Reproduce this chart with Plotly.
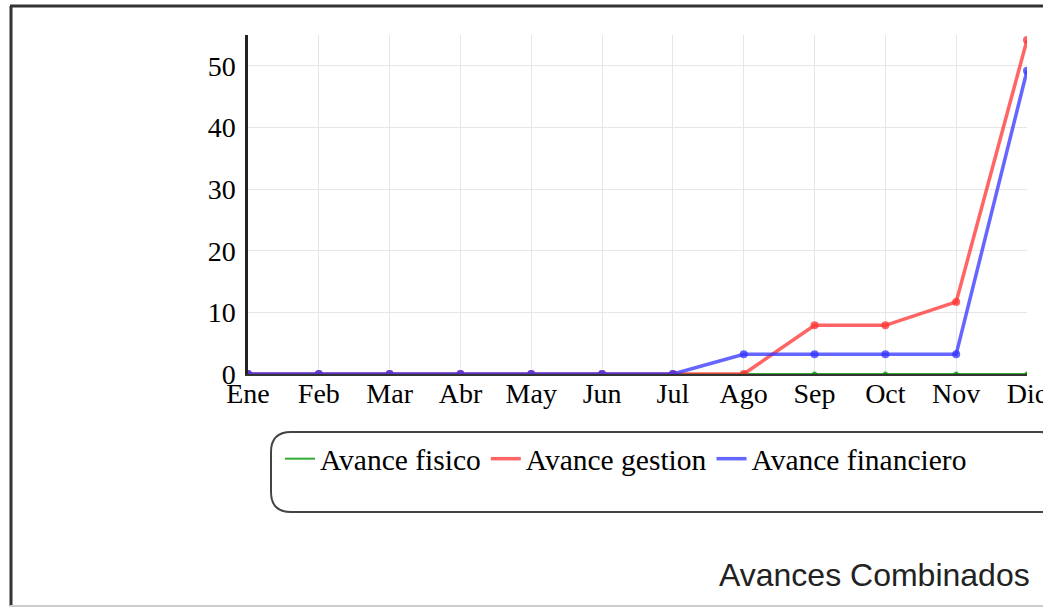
import plotly.graph_objects as go

months = ["Ene", "Feb", "Mar", "Abr", "May", "Jun", "Jul", "Ago", "Sep", "Oct", "Nov", "Dic"]
avance_fisico = [0, 0, 0, 0, 0, 0, 0, 0, 0, 0, 0, 0]
avance_gestion = [0, 0, 0, 0, 0, 0, 0, 0, 7.9, 7.9, 11.7, 54.2]
avance_financiero = [0, 0, 0, 0, 0, 0, 0, 3.2, 3.2, 3.2, 3.2, 49.2]
y_ticks = [0, 10, 20, 30, 40, 50]

W, H = 1043, 608
L, R, T, B = 248, 1027, 35, 374

def px(x):
    return (x - L) / (R - L)

def py(y):
    return (B - y) / (B - T)

series = [
    ("Avance fisico", avance_fisico, "rgba(0,150,0,0.8)", 2, 5),
    ("Avance gestion", avance_gestion, "rgba(255,50,50,0.75)", 3.5, 8),
    ("Avance financiero", avance_financiero, "rgba(50,50,255,0.75)", 3.5, 8),
]

fig = go.Figure()
for name, vals, color, w, ms in series:
    fig.add_trace(go.Scatter(x=months, y=vals, name=name, mode="lines",
                             line=dict(color=color, width=w)))
for name, vals, color, w, ms in series:
    fig.add_trace(go.Scatter(x=months, y=vals, name=name, mode="markers", showlegend=False,
                             marker=dict(color=color, size=ms)))

serif = "Liberation Serif, Times New Roman, serif"

fig.update_layout(
    width=W, height=H,
    margin=dict(l=L, r=W - R, t=T, b=H - B, autoexpand=False),
    paper_bgcolor="white", plot_bgcolor="white",
    showlegend=True,
    legend=dict(orientation="h", x=px(280), y=py(433), xanchor="left", yanchor="top",
                bgcolor="rgba(0,0,0,0)", font=dict(family=serif, size=29.5, color="black"),
                itemwidth=30, tracegroupgap=0),
    font=dict(family=serif, color="black"),
)
fig.update_xaxes(range=[0, 11], showgrid=True, gridcolor="#e6e6e6", gridwidth=1,
                 showline=True, linecolor="#333", linewidth=2, zeroline=False, automargin=False,
                 tickfont=dict(family=serif, size=28, color="black"), ticks="", ticklabelstandoff=-7)
fig.update_yaxes(range=[0, 55], tickvals=y_ticks, showgrid=True, gridcolor="#e6e6e6", gridwidth=1,
                 showline=True, linecolor="#222", linewidth=2.5, zeroline=False, automargin=False,
                 tickfont=dict(family=serif, size=28, color="black"), ticks="", ticklabelstandoff=4)

# outer frame
fig.add_shape(type="line", xref="paper", yref="paper", x0=px(11), x1=px(11), y0=py(6), y1=py(606),
              line=dict(color="#333", width=3), layer="below")
fig.add_shape(type="line", xref="paper", yref="paper", x0=px(10), x1=px(1050), y0=py(6), y1=py(6),
              line=dict(color="#333", width=3), layer="below")
fig.add_shape(type="line", xref="paper", yref="paper", x0=px(10), x1=px(1050), y0=py(606), y1=py(606),
              line=dict(color="#ccc", width=2), layer="below")

# rounded legend box
x0, x1, y0, y1 = px(271), px(1060), py(432), py(512)
rx = 20 / (R - L)
ry = 20 / (B - T)
path = (f"M {x0+rx},{y0} L {x1-rx},{y0} Q {x1},{y0} {x1},{y0-ry} L {x1},{y1+ry} "
        f"Q {x1},{y1} {x1-rx},{y1} L {x0+rx},{y1} Q {x0},{y1} {x0},{y1+ry} "
        f"L {x0},{y0-ry} Q {x0},{y0} {x0+rx},{y0} Z")
fig.add_shape(type="path", xref="paper", yref="paper", path=path,
              line=dict(color="#444", width=2), layer="below")

fig.add_annotation(text="Avances Combinados", xref="paper", yref="paper", x=px(1032), y=py(575),
                   xanchor="right", yanchor="middle", showarrow=False,
                   font=dict(family="Liberation Sans, Arial, sans-serif", size=32, color="#222"))

fig.write_html("out.html", config={"displayModeBar": False},
               post_script="document.body.style.margin='0px';document.body.style.overflow='hidden';")
